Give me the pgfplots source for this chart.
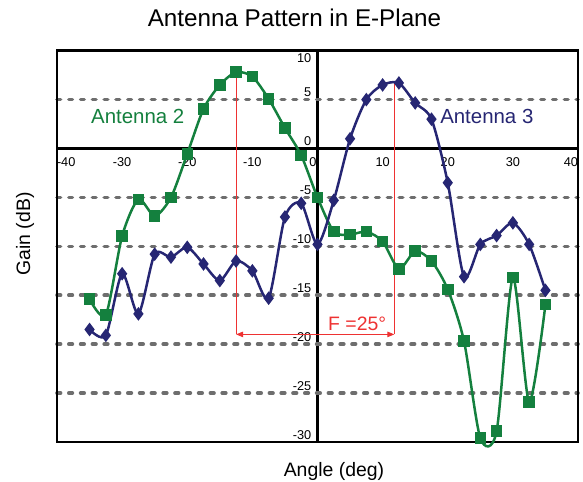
\documentclass[border=0pt]{standalone}
\usepackage{fontspec}
\setmainfont{Liberation Sans}
\usepackage{pgfplots}
\pgfplotsset{compat=1.18}
\usetikzlibrary{arrows.meta}
\definecolor{agreen}{RGB}{20,128,62}
\definecolor{anavy}{RGB}{38,38,115}
\definecolor{gridgray}{RGB}{110,110,110}
\definecolor{ared}{RGB}{238,50,50}
\begin{document}
\begin{tikzpicture}
\useasboundingbox (0,0) rectangle (583bp,482bp);
\begin{axis}[
  at={(57bp,40bp)}, anchor=south west,
  scale only axis, width=521bp, height=391.3bp,
  xmin=-40, xmax=40, ymin=-30, ymax=10,
  axis lines=middle, axis line style={-, line width=2.6bp, black},
  enlargelimits=false, clip=false,
  xtick={-40,-30,...,40},
  xticklabels={\makebox[0pt][l]{-40},-30,-20,-10,\makebox[0pt][r]{0\hspace{1bp}},10,20,30,\makebox[0pt][r]{40}},
  ytick={-30,-25,...,10},
  yticklabels={-30,-25,-20,-15,-10,-5,0,5,\raisebox{-15bp}[9bp][0pt]{10}},
  extra y ticks={-25,-20,-15,-10,-5,5},
  extra y tick labels={},
  extra tick style={grid=major, major tick length=0pt},
  major grid style={gridgray, line width=3.6bp, dash pattern=on 3.6bp off 8.2bp, line cap=round},
  major tick length=0pt,
  hide obscured x ticks=false, hide obscured y ticks=false,
  xticklabel style={anchor=north, inner sep=0pt, yshift=-8.5bp, font=\fontsize{12.8}{14}\selectfont},
  yticklabel style={anchor=south east, inner sep=0pt, xshift=-6bp, yshift=2.5bp, font=\fontsize{12.8}{14}\selectfont},
]
\draw[line width=2.6bp] (rel axis cs:0,0) rectangle (rel axis cs:1,1);
\draw[ared, line width=0.9bp] (axis cs:-12.5,7.8) -- (axis cs:-12.5,-19);
\draw[ared, line width=0.9bp] (axis cs:11.8,6.7) -- (axis cs:11.8,-19);
\draw[ared, line width=0.9bp, {Triangle[length=7bp,width=5.5bp]}-{Triangle[length=7bp,width=5.5bp]}] (axis cs:-12.5,-19) -- (axis cs:11.8,-19);

\addplot[agreen, line width=2.5bp, smooth, tension=0.45, mark=square*, mark size=4.5bp, mark options={solid}] coordinates {
(-35,-15.4) (-32.5,-17.0) (-30,-8.95) (-27.5,-5.2) (-25,-6.9) (-22.5,-5.0) (-20,-0.55)
(-17.5,4.05) (-15,6.5) (-12.5,7.8) (-10,7.35) (-7.5,5.07) (-5,2.1) (-2.5,-0.7) (0,-5.0)
(2.5,-8.5) (5,-8.8) (7.5,-8.5) (10,-9.5) (12.5,-12.3) (15,-10.5) (17.5,-11.5) (20,-14.4)
(22.5,-19.7) (25,-29.6) (27.5,-28.9) (30,-13.2) (32.5,-25.9) (35,-15.95)
};
\addplot[anavy, line width=2.5bp, smooth, tension=0.45, mark=diamond*, mark size=4.8bp, mark options={solid}] coordinates {
(-35,-18.5) (-32.5,-19.1) (-30,-12.8) (-27.5,-16.9) (-25,-10.8) (-22.5,-11.1) (-20,-10.1)
(-17.5,-11.8) (-15,-13.5) (-12.5,-11.5) (-10,-12.5) (-7.5,-15.3) (-5,-7.0) (-2.5,-5.6) (0,-9.8)
(2.5,-5.3) (5,1.0) (7.5,5.0) (10,6.5) (12.5,6.7) (15,4.66) (17.5,3.0) (20,-3.5)
(22.5,-13.1) (25,-9.8) (27.5,-8.9) (30,-7.6) (32.5,-9.8) (35,-14.5)
};
\node[agreen, anchor=base, font=\fontsize{20.5}{24}\selectfont] at (axis cs:-27.6,2.55) {Antenna 2};
\node[anavy, anchor=base, font=\fontsize{20.5}{24}\selectfont] at (axis cs:26.0,2.55) {Antenna 3};
\node[ared, anchor=base, font=\fontsize{19.5}{23}\selectfont] at (axis cs:6.1,-18.57) {F =25°};
\end{axis}
\node[anchor=base, font=\fontsize{24.3}{28}\selectfont] at (294.5bp,455bp) {Antenna Pattern in E-Plane};
\node[anchor=base, font=\fontsize{19.5}{23}\selectfont] at (334bp,5.3bp) {Angle (deg)};
\node[rotate=90, anchor=center, font=\fontsize{19.5}{23}\selectfont] at (25bp,248bp) {Gain (dB)};
\end{tikzpicture}
\end{document}
